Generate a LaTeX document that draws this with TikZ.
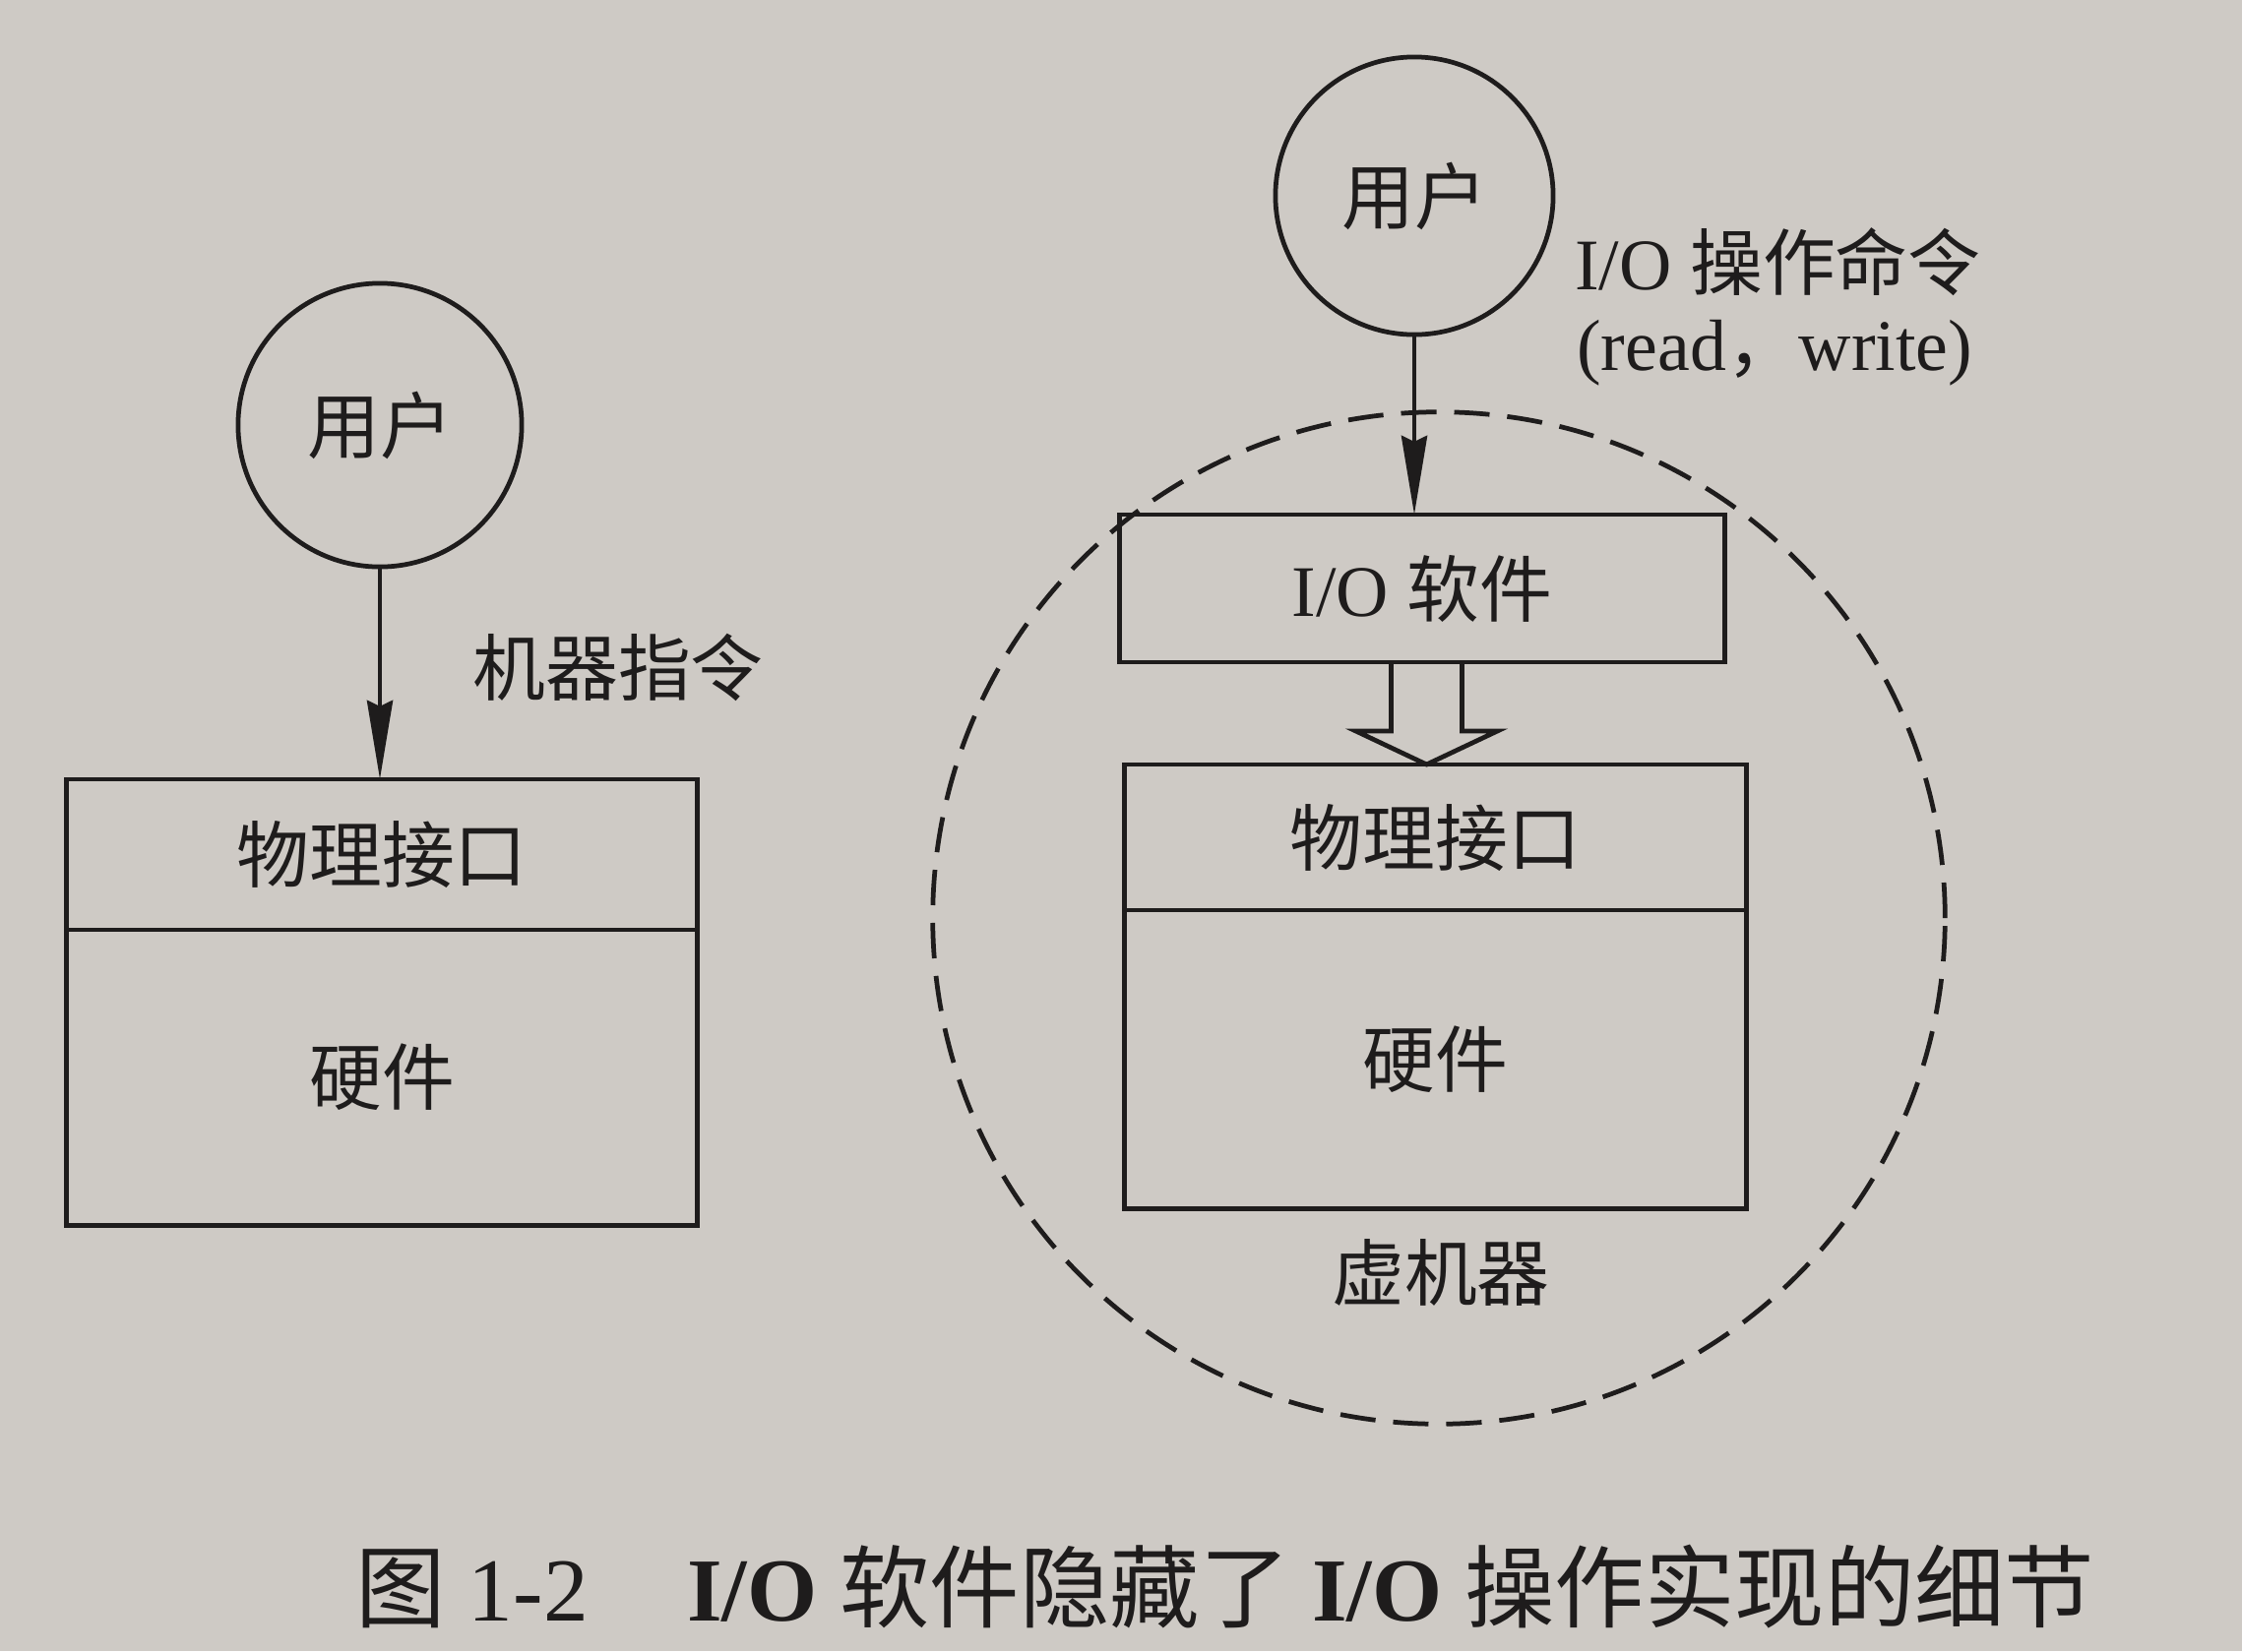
\documentclass[tikz,border=0pt]{standalone}
\usepackage{fontspec}
\setmainfont{Liberation Serif}
\newfontfamily\cjk{Noto Sans CJK SC}
\usetikzlibrary{arrows.meta,calc}
\definecolor{paper}{RGB}{206,202,197}
\definecolor{ink}{RGB}{30,28,28}
\begin{document}
\begin{tikzpicture}[x=0.01cm,y=-0.01cm,
  line width=1.35pt,
  lbl/.style={inner sep=0pt, text=ink, font=\fontsize{21}{25}\selectfont},
  user/.style={circle, draw=ink, minimum size=2.88cm, inner sep=0pt, outer sep=0pt,
    text=ink, font=\fontsize{21}{25}\selectfont\cjk},
  part/.style={rectangle, draw=ink, inner sep=0pt, outer sep=0pt,
    text=ink, font=\fontsize{21}{25}\selectfont\cjk},
  tip/.style={-{Stealth[length=8mm,width=2.6mm,inset=0.6mm]}, draw=ink}]
% page
\fill[paper] (0,0) rectangle (2278,1678);
\useasboundingbox (0,0) rectangle (2278,1678);

% ---- left: a real machine
\node[user] (lu) at (386,432) {用户};
\node[part, minimum width=6.4cm, minimum height=1.53cm] (lphy) at (388,868.5) {物理接口};
\node[part, minimum width=6.4cm, minimum height=3.0cm, anchor=north] (lhw) at (lphy.south) {硬件};
\draw[tip] (lu.south) -- (lu.south |- lphy.north);
\node[lbl, font=\fontsize{21}{25}\selectfont\cjk] (mi) at (628,678) {机器指令};

% ---- right: a virtual machine
\node[user, minimum size=2.82cm] (ru) at (1437,199) {用户};
\node[lbl, anchor=west] (cmd) at (1598,266) {I/O {\cjk 操作命令}};
\node[lbl, anchor=west] (rw) at (1600,359) {(read{\cjk ，}write)};
\node[part, minimum width=6.14cm, minimum height=1.5cm] (io) at (1445,598) {\rmfamily I/O {\cjk 软件}};
\node[part, minimum width=6.31cm, minimum height=1.48cm] (rphy) at (1458.5,851) {物理接口};
\node[part, minimum width=6.31cm, minimum height=3.03cm, anchor=north] (rhw) at (rphy.south) {硬件};
\draw[tip] (ru.south) -- (ru.south |- io.north);

% hollow arrow from the I/O software down to the physical interface
\coordinate (ht) at ($(rphy.north)+(-9,0)$);
\draw[ink, line join=miter] (ht) ++(-36,-104) -- ++(0,70) -- ++(-36,0) -- (ht)
  -- ++(72,-34) -- ++(-36,0) -- ++(0,-70);

% the dashed boundary of the virtual machine
\node[circle, draw=ink, dash pattern=on 0.36cm off 0.18cm, minimum size=10.28cm,
  inner sep=0pt] (vm) at (1462,933) {};
\node[lbl, font=\fontsize{21}{25}\selectfont\cjk] (vml) at (1464,1293) {虚机器};

% caption
\node[lbl, font=\fontsize{26}{30}\selectfont] (cap) at (1245,1613)
  {{\cjk 图} 1-2\hspace{1.1em}{\bfseries I/O} {\cjk 软件隐藏了} {\bfseries I/O} {\cjk 操作实现的细节}};
\end{tikzpicture}
\end{document}
